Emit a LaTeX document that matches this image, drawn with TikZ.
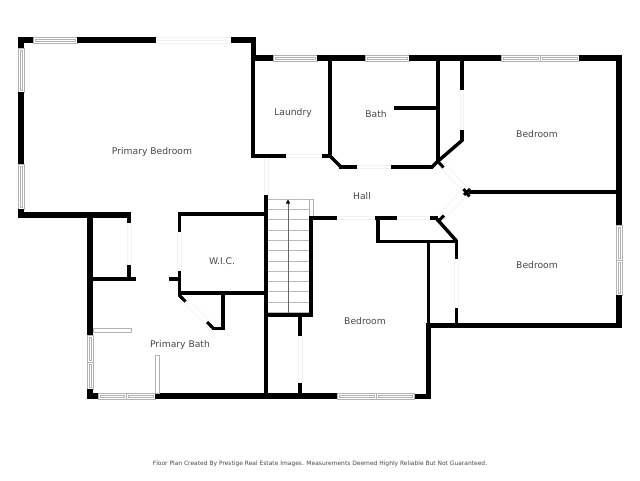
\documentclass[tikz,border=0pt]{standalone}
\usepackage{fontspec}
\setmainfont{DejaVu Sans}
\definecolor{winc}{gray}{0.7}
\definecolor{doorc}{gray}{0.95}
\definecolor{txtc}{gray}{0.28}
\tikzset{
  wallline/.style={black,line width=3.4pt,line cap=butt},
  tickline/.style={black,line width=3pt},
  doordiag/.style={doorc,line width=0.7pt},
  tread/.style={gray!55,line width=0.6pt},
  label/.style={text=txtc,font=\fontsize{9.2}{10}\selectfont,inner sep=0pt,anchor=center},
  note/.style={text=txtc,font=\fontsize{5.95}{7}\selectfont,inner sep=0pt,anchor=center},
  winline/.style={winc,line width=0.6pt}
}
\newcommand{\W}[4]{\fill[black] (#1,#2) rectangle (#3,#4);}
\newcommand{\HW}[4]{% x1 x2 y1 y2 : horizontal window
  \fill[white] (#1,#3) rectangle (#2,#4);
  \draw[winline] (#1,#3) rectangle (#2,#4);
  \draw[winline] (#1+2,#3+2) rectangle (#2-2,#4-2);}
\newcommand{\VW}[4]{% x1 x2 y1 y2 : vertical window
  \fill[white] (#1,#3) rectangle (#2,#4);
  \draw[winline] (#1,#3) rectangle (#2,#4);
  \draw[winline] (#1+2,#3+2) rectangle (#2-2,#4-2);}
\newcommand{\HD}[3]{\draw[doorc,line width=0.5pt] (#1,#3) -- (#2,#3) (#1,#3+3.5) -- (#2,#3+3.5);}
\newcommand{\VD}[3]{\draw[doorc,line width=0.5pt] (#3,#1) -- (#3,#2) (#3+3.5,#1) -- (#3+3.5,#2);}
\begin{document}
\begin{tikzpicture}[x=1pt,y=-1pt]
\useasboundingbox (0,0) rectangle (640,480);
\fill[white] (0,0) rectangle (640,480);
% primary bedroom shell
\W{18}{37}{33}{43}
\HW{33}{77}{37}{43}
\W{77}{37}{156}{43}
\HD{156}{231}{37}
\draw[doorc,line width=0.5pt] (156,43)--(231,43);
\W{231}{37}{256}{43}
\W{251}{37}{256}{61}
\W{18}{37}{24}{48}
\VW{18}{24}{48}{92}
\W{18}{92}{24}{164}
\VW{18}{24}{164}{209}
\W{18}{209}{24}{218}
\W{18}{212}{131}{218}
\W{127}{212}{131}{223}
\VD{223}{265}{127.3}
\W{127}{265}{131}{279}
% primary bath
\W{87}{212}{93}{335}
\W{93}{277}{136}{280.5}
\VW{87}{93}{335}{362}
\VW{87}{93}{362}{389}
\W{87}{389}{93}{399}
\W{87}{393}{98}{399}
\HW{98}{126}{393}{399}
\HW{126}{155}{393}{399}
\W{155}{393}{337}{399}
\draw[winline,fill=white] (93,328) rectangle (131,332);
\draw[winline,fill=white] (155,355) rectangle (159,393);
% WIC
\W{178}{212}{265}{216}
\W{178}{212}{181}{232}
\VD{232}{271}{177.6}
\W{178}{271}{181}{296}
\W{169}{277}{178}{280.5}
\W{178}{291}{265}{294.5}
\W{221}{294}{224.5}{330}
\W{212}{326.5}{224.5}{330}
\draw[doordiag] (182,301)--(207,326) (186,298)--(211,322);
\draw[tickline] (180.5,296.5)--(185.5,301.5) (207,322)--(212,327);
\draw[wallline,line width=3pt] (179,295)--(183,299);
\draw[wallline,line width=3pt] (210,325)--(213,328);
% central walls
\W{264}{195}{268}{399}
\VD{157}{195}{264.3}
\W{264}{313}{313}{316.5}
\W{309}{216}{313}{316.5}
\W{298}{316}{302}{336}
\VD{336}{383}{298.3}
\W{298}{383}{302}{394}
% stairs
\foreach \i in {0,...,11}{\draw[tread] (268,{199+10.3*\i})--(309,{199+10.3*\i});}
\draw[gray!80!black,line width=0.5pt] (288,203)--(288,313);
\fill[black] (288,199.5)--(285.8,203.5)--(290.2,203.5)--cycle;
\draw[winc,line width=0.5pt] (309,199) rectangle (313,216);
% hall south side
\W{309}{216}{337}{219.5}
\HD{337}{376}{216}
\W{375}{216}{397}{219.5}
\W{376}{216}{379.5}{243}
\HD{397}{430}{216}
\W{430}{216}{438}{219.5}
\W{376}{240}{458}{243}
\draw[wallline] (436,218)--(456.5,241);
\draw[tickline] (437.5,222)--(444,215.5);
\W{454.5}{240}{458}{259}
\VD{259}{308}{454.5}
\W{454.5}{308}{458}{325}
\W{426.5}{243}{430}{324}
\W{426}{323}{431}{399}
\W{426}{323}{622}{328}
% bedroom bottom
\HW{337}{376}{393.5}{399}
\HW{376}{414}{393.5}{399}
\W{415}{394}{431}{399}
% top rooms
\W{251}{55}{273}{61}
\HW{273}{317}{55}{61}
\W{317}{55}{365}{61}
\HW{365}{409}{55}{61}
\W{409}{55}{501}{61}
\HW{501}{540}{55}{61}
\HW{540}{579}{55}{61}
\W{579}{55}{622}{61}
\W{616}{55}{622}{225}
\VW{616}{622}{225}{260}
\VW{616}{622}{260}{295}
\W{616}{295}{622}{328}
% laundry
\W{251}{55}{254.5}{157}
\W{251}{154}{286}{157.5}
\HD{286}{322}{154}
\W{322}{154}{331}{157.5}
\W{328}{61}{331.5}{156}
\draw[wallline] (329,155)--(340.5,166.5);
% bath
\W{339}{165}{357}{168.5}
\HD{357}{391}{165}
\W{391}{165}{433}{168.5}
\draw[wallline] (432,167)--(439,160);
\W{436}{61}{439.5}{163}
\W{394}{106}{436}{109.5}
% east closet
\W{460}{61}{463.5}{90}
\VD{90}{130}{460}
\W{460}{130}{463.5}{141}
\draw[wallline] (462.5,140)--(437,162);
\draw[tickline] (437,160.5)--(443.5,167.5);
% angled doors
\draw[doordiag] (443,162)--(467,187) (439,166)--(463,191);
\draw[doordiag] (462,190)--(439,214) (467,196)--(444,219);
\draw[tickline] (463.5,189)--(469.5,196.5);
\draw[tickline] (464,195)--(470,189);
\W{469}{190}{616}{193.5}
% labels
\node[label] (pbed) at (152,151.6) {Primary Bedroom};
\node[label] (laun) at (293,112.6) {Laundry};
\node[label] (bath) at (376,114.4) {Bath};
\node[label] (bedne) at (537,134) {Bedroom};
\node[label] (hall) at (362,196) {Hall};
\node[label] (wic) at (222,261) {W.I.C.};
\node[label] (bedse) at (537,265.4) {Bedroom};
\node[label] (beds) at (365,321) {Bedroom};
\node[label] (pbath) at (180,345.4) {Primary Bath};
\node[note] (foot) at (320,463.4) {Floor Plan Created By Prestige Real Estate Images. Measurements Deemed Highly Reliable But Not Guaranteed.};
\end{tikzpicture}
\end{document}
